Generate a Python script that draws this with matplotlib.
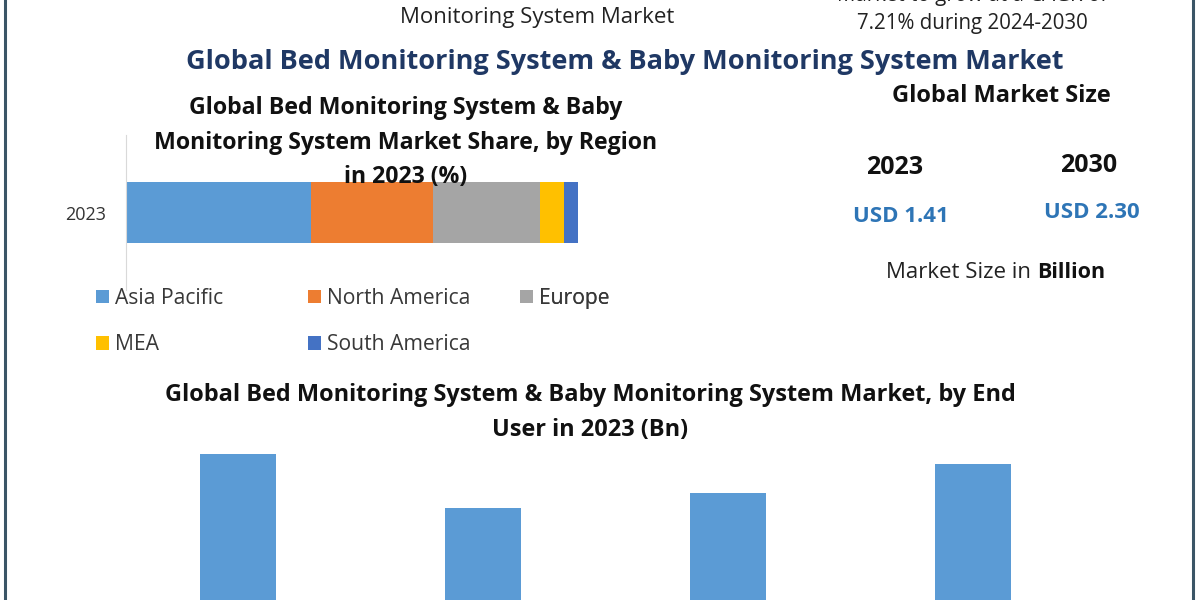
import matplotlib.pyplot as plt
from matplotlib.lines import Line2D

plt.rcParams['font.family'] = ['Open Sans', 'DejaVu Sans']

# region share in 2023 (%)
regions = ['Asia Pacific', 'North America', 'Europe', 'MEA', 'South America']
region_share = [41.0, 27.0, 23.5, 5.5, 3.0]
region_colors = ['#5b9bd5', '#ed7d31', '#a5a5a5', '#ffc000', '#4472c4']

# end user market in 2023 (Bn)
end_users = ['Hospitals', 'Home Care', 'Nursing Homes', 'Others']
end_user_values = [0.42, 0.30, 0.333, 0.398]

# market size headline
years = ['2023', '2030']
market_size = ['USD 1.41', 'USD 2.30']

W, H = 1200, 600
fig = plt.figure(figsize=(12, 6), dpi=100)
fig.patch.set_facecolor('white')


def px(x, y):
    return x / W, 1 - y / H


def txt(x, y, s, **kw):
    fx, fy = px(x, y)
    kw.setdefault('ha', 'center')
    kw.setdefault('va', 'center')
    return fig.text(fx, fy, s, **kw)


# frame lines left / right
for xb in (4.5, 1192.5):
    fig.add_artist(Line2D([xb / W, xb / W], [0, 1], color='#3b5566', lw=2.2,
                          transform=fig.transFigure))

# top texts (the first line of the CAGR note is cut off by the top edge)
txt(537, 17, 'Monitoring System Market', fontsize=16, color='#222222')
txt(972, 1, 'Market to grow at a CAGR of', fontsize=14.8, color='#222222',
    va='baseline')
txt(972, 23, '7.21% during 2024-2030', fontsize=14.8, color='#222222')

# main title
txt(625, 62, 'Global Bed Monitoring System & Baby Monitoring System Market',
    fontsize=19.5, fontweight='bold', color='#1f3864')

# --- stacked bar by region ---
ax1 = fig.add_axes([126 / W, 1 - 290 / H, 574 / W, 155 / H])
left = 0
bars = []
for name, val, col in zip(regions, region_share, region_colors):
    bars.append(ax1.barh([0], [val], left=left, height=0.787, color=col, label=name))
    left += val
ax1.set_xlim(0, 100 * 574 / 452)
ax1.set_ylim(-1, 1)
ax1.set_yticks([0])
ax1.set_yticklabels(['2023'], fontsize=13, color='#333333')
ax1.tick_params(axis='y', length=0, pad=14)
ax1.set_xticks([])
for s in ('top', 'right', 'bottom'):
    ax1.spines[s].set_visible(False)
ax1.spines['left'].set_color('#d9d9d9')
ax1.patch.set_alpha(0)

# legend laid out in columns: (AP, MEA), (NA, SA), (Europe)
columns = [([0, 3], 96), ([1, 4], 308), ([2], 520)]
for idx, xl in columns:
    leg = ax1.legend([bars[i] for i in idx], [regions[i] for i in idx],
                     loc='upper left', bbox_to_anchor=(xl / W, 1 - 288 / H),
                     bbox_transform=fig.transFigure, frameon=False,
                     fontsize=15.2, handlelength=0.6, handleheight=0.6,
                     handletextpad=0.3, labelspacing=1.2, borderpad=0,
                     borderaxespad=0, labelcolor='#383838')
    ax1.add_artist(leg)

txt(406, 108, 'Global Bed Monitoring System & Baby', fontsize=16.7,
    fontweight='bold', color='#111111')
txt(406, 143, 'Monitoring System Market Share, by Region', fontsize=16.7,
    fontweight='bold', color='#111111')
txt(406, 177, 'in 2023 (%)', fontsize=16.7, fontweight='bold', color='#111111')

# --- right panel: market size ---
txt(1001, 96, 'Global Market Size', fontsize=17, fontweight='bold', color='#111111')
for x, yr, y in zip([895, 1089], years, [167, 166]):
    txt(x, y, yr, fontsize=18, fontweight='bold', color='#111111')
for x, ms, y in zip([901, 1092], market_size, [217, 213]):
    txt(x, y, ms, fontsize=16, fontweight='bold', color='#2e75b6')
txt(1031, 272, 'Market Size in', fontsize=16, color='#222222', ha='right')
txt(1037, 272, 'Billion', fontsize=15.5, fontweight='bold', color='#111111', ha='left')

# --- bottom bar chart by end user ---
txt(590, 395, 'Global Bed Monitoring System & Baby Monitoring System Market, by End',
    fontsize=16.9, fontweight='bold', color='#111111')
txt(590, 430, 'User in 2023 (Bn)', fontsize=16.9, fontweight='bold', color='#111111')

base_y = 643
top_y = 440
ax2 = fig.add_axes([115.5 / W, 1 - base_y / H, 980 / W, (base_y - top_y) / H])
ax2.bar(end_users, end_user_values, width=0.314, color='#5b9bd5')
ax2.set_xlim(-0.5, 3.5)
ax2.set_ylim(0, (base_y - top_y) / 450)
ax2.set_xticks([])
ax2.set_yticks([])
for s in ax2.spines.values():
    s.set_visible(False)
ax2.patch.set_alpha(0)

fig.savefig('out.png', dpi=100)
